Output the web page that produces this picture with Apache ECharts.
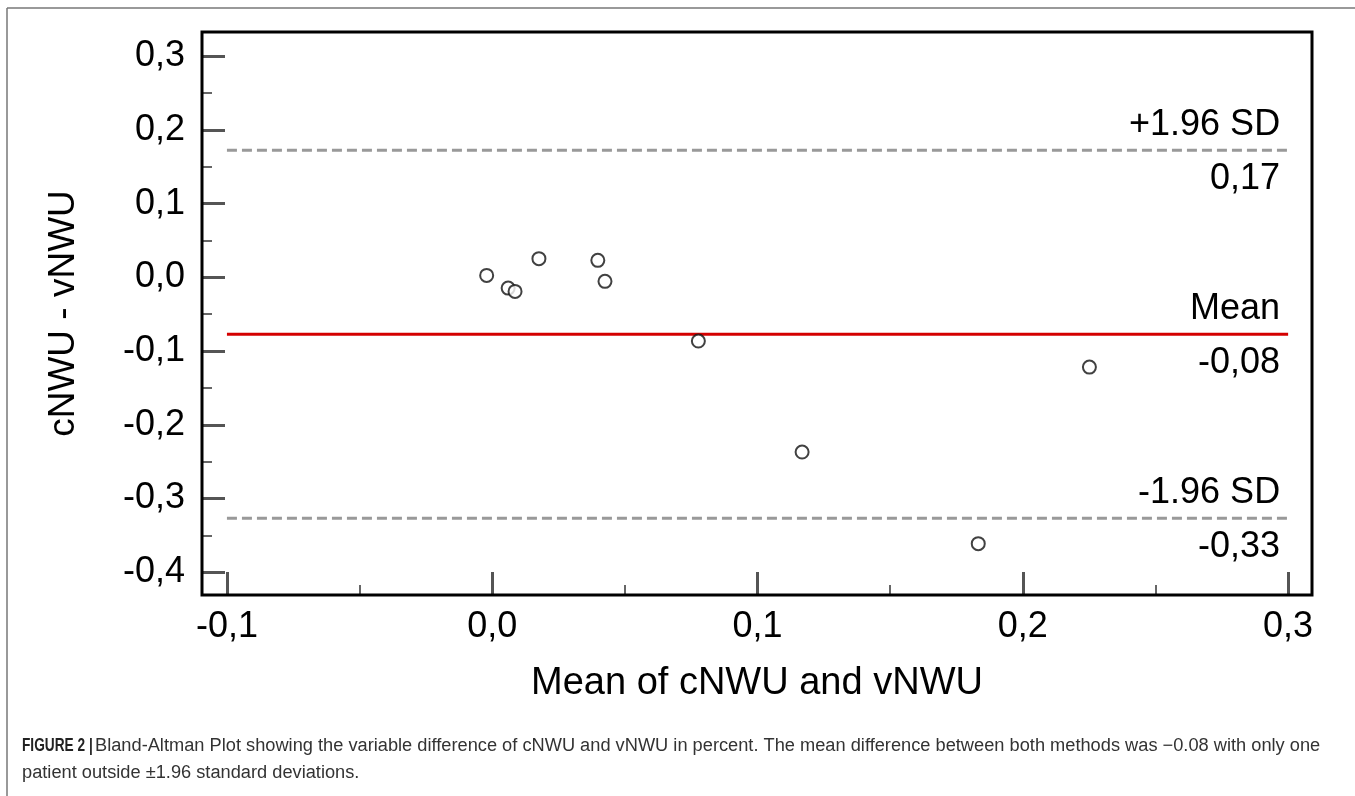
<!DOCTYPE html>
<html>
<head>
<meta charset="utf-8">
<script src="https://cdn.jsdelivr.net/npm/echarts@6/dist/echarts.min.js"></script>
<style>
html,body{margin:0;padding:0;background:#fff;}
#chart{width:1355px;height:796px;}
</style>
</head>
<body>
<div id="chart"></div>
<script>
// ---- data ----
const meanValues = [-0.0021, 0.0060, 0.0086, 0.0176, 0.0398, 0.0425, 0.0777, 0.1168, 0.1832, 0.2251];
const diffValues = [0.0027, -0.0145, -0.0190, 0.0254, 0.0231, -0.0054, -0.0864, -0.2370, -0.3613, -0.1217];
const limitValues = [0.1725, -0.0773, -0.3270];
const limitTitles = ['+1.96 SD', 'Mean', '-1.96 SD'];
const limitLabels = ['0,17', '-0,08', '-0,33'];
const limitColors = ['#999999', '#d40000', '#999999'];
const limitTypes = [[10, 5], 'solid', [10, 5]];
const xMajorTicks = [-0.1, 0.0, 0.1, 0.2, 0.3];
const xMinorTicks = [-0.05, 0.05, 0.15, 0.25];
const yMajorTicks = [0.3, 0.2, 0.1, 0.0, -0.1, -0.2, -0.3, -0.4];
const yMinorTicks = [0.25, 0.15, 0.05, -0.05, -0.15, -0.25, -0.35];
const xRange = [-0.1094, 0.309];
const yRange = [-0.431, 0.333];
const lineSpan = [-0.1, 0.3];
const xTitle = 'Mean of cNWU and vNWU';
const yTitle = 'cNWU - vNWU';
const captionBold = 'FIGURE 2 |';
const captionLine1 = 'Bland-Altman Plot showing the variable difference of cNWU and vNWU in percent. The mean difference between both methods was \u22120.08 with only one';
const captionLine2 = 'patient outside \u00b11.96 standard deviations.';

const FONT = "'Liberation Sans', Arial, sans-serif";
const fmt = v => (Math.abs(v) < 1e-9 ? 0 : v).toFixed(1).replace('.', ',');

const chart = echarts.init(document.getElementById('chart'), null, {renderer: 'canvas'});

const series = [];
limitValues.forEach((v, i) => {
  series.push({
    type: 'line', xAxisIndex: 0, yAxisIndex: 0,
    data: [[lineSpan[0], v], [lineSpan[1], v]],
    symbol: 'none', silent: true, z: 3,
    lineStyle: {color: limitColors[i], width: 3, type: limitTypes[i]}
  });
  [[limitTitles[i], -25], [limitLabels[i], 29]].forEach(([txt, dy]) => {
    series.push({
      type: 'scatter', xAxisIndex: 0, yAxisIndex: 0,
      data: [[lineSpan[1], v]], symbolSize: 0, silent: true, z: 4,
      itemStyle: {color: '#000'},
      label: {show: true, position: 'left', distance: 8, offset: [0, dy],
        formatter: txt, fontSize: 36, fontFamily: FONT, color: '#000', opacity: 1}
    });
  });
});
series.push({
  type: 'scatter', xAxisIndex: 0, yAxisIndex: 0,
  data: meanValues.map((x, i) => [x, diffValues[i]]),
  symbol: 'circle', symbolSize: 13, z: 5,
  itemStyle: {color: '#ffffff', borderColor: '#111', borderWidth: 2}
});

const baseAxis = {
  axisLine: {show: false, onZero: false},
  splitLine: {show: false}
};

chart.setOption({
  animation: false,
  backgroundColor: '#fff',
  grid: {left: 202, top: 32, right: 43, bottom: 201, show: true,
    borderColor: '#000', borderWidth: 3, backgroundColor: 'rgba(0,0,0,0)', z: 6},
  xAxis: [
    Object.assign({}, baseAxis, {
      type: 'value', position: 'bottom', min: xRange[0], max: xRange[1],
      name: xTitle, nameLocation: 'middle', nameGap: 70,
      nameTextStyle: {fontSize: 38, fontFamily: FONT, color: '#000'},
      axisTick: {show: true, inside: true, length: 23, customValues: xMajorTicks,
        lineStyle: {color: '#555', width: 3}},
      axisLabel: {show: true, customValues: xMajorTicks, formatter: fmt, margin: 14,
        fontSize: 36, fontFamily: FONT, color: '#000'}
    }),
    Object.assign({}, baseAxis, {
      type: 'value', position: 'bottom', min: xRange[0], max: xRange[1],
      axisTick: {show: true, inside: true, length: 10, customValues: xMinorTicks,
        lineStyle: {color: '#666', width: 2}},
      axisLabel: {show: false}
    })
  ],
  yAxis: [
    Object.assign({}, baseAxis, {
      type: 'value', position: 'left', min: yRange[0], max: yRange[1],
      name: yTitle, nameLocation: 'middle', nameGap: 120, nameRotate: 90,
      nameTextStyle: {fontSize: 37, fontFamily: FONT, color: '#000'},
      axisTick: {show: true, inside: true, length: 23, customValues: yMajorTicks,
        lineStyle: {color: '#555', width: 3}},
      axisLabel: {show: true, customValues: yMajorTicks, formatter: fmt, margin: 17,
        fontSize: 36, fontFamily: FONT, color: '#000'}
    }),
    Object.assign({}, baseAxis, {
      type: 'value', position: 'left', min: yRange[0], max: yRange[1],
      axisTick: {show: true, inside: true, length: 10, customValues: yMinorTicks,
        lineStyle: {color: '#666', width: 2}},
      axisLabel: {show: false}
    })
  ],
  series: series,
  graphic: [
    {type: 'line', shape: {x1: 7, y1: 8, x2: 7, y2: 796}, style: {stroke: '#777', lineWidth: 1.5}, silent: true},
    {type: 'line', shape: {x1: 7, y1: 8, x2: 1355, y2: 8}, style: {stroke: '#777', lineWidth: 1.5}, silent: true},
    {type: 'text', x: 22, y: 736, scaleX: 0.72, silent: true,
      style: {text: captionBold, font: "bold 19px 'Liberation Sans', Arial, sans-serif", fill: '#222'}},
    {type: 'text', x: 95, y: 737, scaleX: 1.013, silent: true,
      style: {text: captionLine1, font: "18px 'Liberation Sans', Arial, sans-serif", fill: '#333'}},
    {type: 'text', x: 22, y: 764, scaleX: 1.013, silent: true,
      style: {text: captionLine2, font: "18px 'Liberation Sans', Arial, sans-serif", fill: '#333'}}
  ]
});
</script>
</body>
</html>
